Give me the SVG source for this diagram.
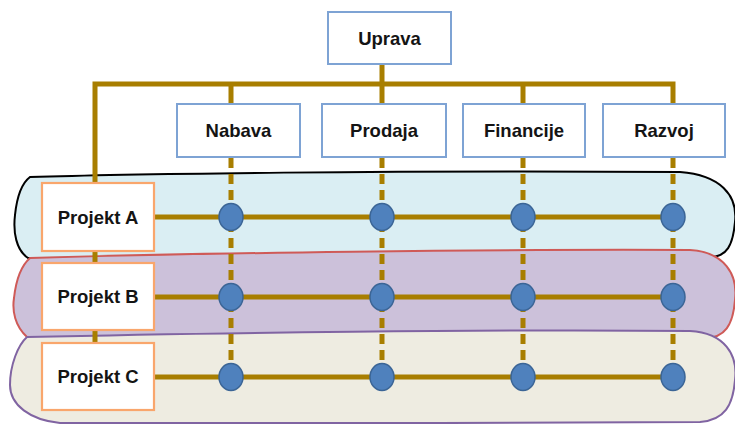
<svg xmlns="http://www.w3.org/2000/svg" width="735" height="424" viewBox="0 0 735 424">
<style>
.box{fill:#fff;stroke:#7EA3D4;stroke-width:2}
.pbox{fill:#fff;stroke:#F9A66C;stroke-width:2.2}
.t{font-family:"Liberation Sans",Arial,sans-serif;font-weight:bold;font-size:18.5px;fill:#141414;text-anchor:middle;dominant-baseline:central}
.ln{stroke:#A87E00;stroke-width:5;fill:none}
.dash{stroke:#A87E00;stroke-width:5;fill:none;stroke-dasharray:10 6}
.dot{fill:#4F81BD;stroke:#3B6596;stroke-width:1.5}
</style>
<rect width="735" height="424" fill="#fff"/>
<g id="blobs">
<path id="blobA" d="M30,177 C120,174 400,170 680,172 C720,175 738,195 735,222 C733,245 727,257 710,257 L28,258 C16,250 13,232 15,215 C17,196 22,183 30,177 Z" fill="#DAEEF3" stroke="#000" stroke-width="2"/>
<path id="blobB" d="M30,258 C200,253 500,249 690,250 C725,252 738,275 735,300 C733,325 725,338 705,338 L27,337 C15,326 12,311 14,298 C16,280 22,265 30,258 Z" fill="#CCC1DA" stroke="#CF5A57" stroke-width="2"/>
<path id="blobC" d="M27,337 C200,333 500,329 690,331 C725,333 738,355 735,380 C733,405 725,420 700,422 C500,423 200,424 60,423 C30,420 10,405 10,385 C10,365 18,345 27,337 Z" fill="#EEECE1" stroke="#8064A2" stroke-width="2"/>
</g>
<g id="connectors">
<path class="ln" d="M382,64 V84 M95,343 V84 H673 V104 M231,84 V104 M382,84 V104 M523,84 V104"/>
<path class="dash" d="M231,158 V370 M382,158 V370 M523,158 V370 M673,158 V370"/>
<path class="ln" d="M154,217 H673 M154,297 H673 M154,377 H673"/>
</g>
<g id="uprava"><rect class="box" x="328" y="12" width="123" height="52"/><text class="t" x="389.5" y="38">Uprava</text></g>
<g id="nabava"><rect class="box" x="177" y="104" width="123" height="53"/><text class="t" x="238.5" y="130.5">Nabava</text></g>
<g id="prodaja"><rect class="box" x="322" y="104" width="124" height="53"/><text class="t" x="384" y="130.5">Prodaja</text></g>
<g id="financije"><rect class="box" x="463" y="104" width="122" height="53"/><text class="t" x="524" y="130.5">Financije</text></g>
<g id="razvoj"><rect class="box" x="603" y="104" width="122" height="53"/><text class="t" x="664" y="130.5">Razvoj</text></g>
<g id="projektA"><rect class="pbox" x="42" y="183" width="112" height="68"/><text class="t" x="98" y="217">Projekt A</text></g>
<g id="projektB"><rect class="pbox" x="42" y="263" width="112" height="67"/><text class="t" x="98" y="296.5">Projekt B</text></g>
<g id="projektC"><rect class="pbox" x="42" y="343" width="112" height="67"/><text class="t" x="98" y="376.5">Projekt C</text></g>
<g id="nodes">
<ellipse class="dot" cx="231" cy="217" rx="12" ry="13.5"/><ellipse class="dot" cx="382" cy="217" rx="12" ry="13.5"/><ellipse class="dot" cx="523" cy="217" rx="12" ry="13.5"/><ellipse class="dot" cx="673" cy="217" rx="12" ry="13.5"/>
<ellipse class="dot" cx="231" cy="297" rx="12" ry="13.5"/><ellipse class="dot" cx="382" cy="297" rx="12" ry="13.5"/><ellipse class="dot" cx="523" cy="297" rx="12" ry="13.5"/><ellipse class="dot" cx="673" cy="297" rx="12" ry="13.5"/>
<ellipse class="dot" cx="231" cy="377" rx="12" ry="13.5"/><ellipse class="dot" cx="382" cy="377" rx="12" ry="13.5"/><ellipse class="dot" cx="523" cy="377" rx="12" ry="13.5"/><ellipse class="dot" cx="673" cy="377" rx="12" ry="13.5"/>
</g>
</svg>
